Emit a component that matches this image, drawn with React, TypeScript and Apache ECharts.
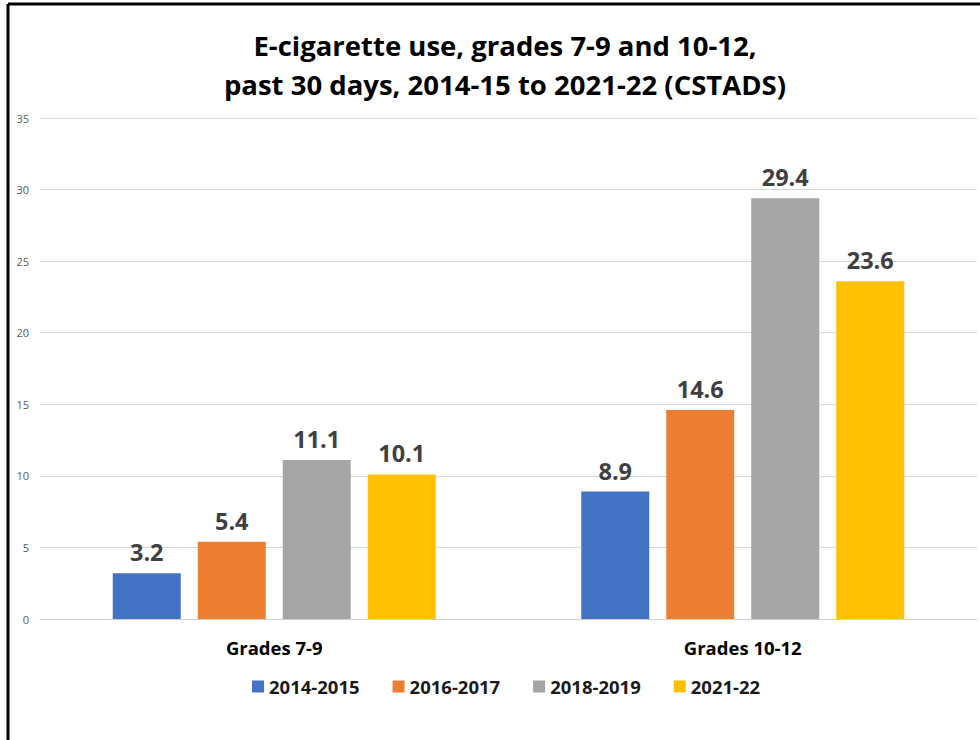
import React, { useEffect, useRef } from "react";
import * as echarts from "echarts";

const categories = ["Grades 7-9", "Grades 10-12"];
const seriesNames = ["2014-2015", "2016-2017", "2018-2019", "2021-22"];
const values2014 = [3.2, 8.9];
const values2016 = [5.4, 14.6];
const values2018 = [11.1, 29.4];
const values2021 = [10.1, 23.6];
const colors = ["#4472C4", "#ED7D31", "#A5A5A5", "#FFC000"];
const titleText = "E-cigarette use, grades 7-9 and 10-12,\npast 30 days, 2014-15 to 2021-22 (CSTADS)";

export default function App() {
  const ref = useRef<HTMLDivElement>(null);
  useEffect(() => {
    document.body.style.margin = "0";
    const chart = echarts.init(ref.current!, null, { renderer: "svg" });
    const allValues = [values2014, values2016, values2018, values2021];
    chart.setOption({
      animation: false,
      backgroundColor: "#ffffff",
      textStyle: { fontFamily: "Open Sans" },
      title: {
        text: titleText,
        left: 500,
        top: 21,
        textAlign: "center",
        textStyle: {
          fontFamily: "Open Sans",
          fontSize: 27.5,
          fontWeight: "bold",
          color: "#000000",
          lineHeight: 39,
        },
      },
      legend: {
        data: seriesNames,
        top: 672,
        left: 247,
        itemWidth: 12,
        itemHeight: 12,
        itemGap: 33,
        icon: "rect",
        textStyle: { fontFamily: "Open Sans", fontSize: 18.5, fontWeight: "bold", color: "#1a1a1a" },
      },
      grid: { left: 40, right: 3, top: 118, bottom: 121, containLabel: false },
      xAxis: {
        type: "category",
        data: categories,
        axisLine: { show: true, lineStyle: { color: "#d0d0d0", width: 1 } },
        axisTick: { show: false },
        axisLabel: {
          margin: 19,
          fontFamily: "Open Sans",
          fontSize: 18.5,
          fontWeight: "bold",
          color: "#000000",
        },
      },
      yAxis: {
        type: "value",
        min: 0,
        max: 35,
        interval: 5,
        axisLine: { show: false },
        axisTick: { show: false },
        splitLine: { lineStyle: { color: "#d9d9d9", width: 1 } },
        axisLabel: { fontSize: 11, color: "#595959", margin: 11, fontFamily: "Open Sans" },
      },
      series: seriesNames.map((name, i) => ({
        name,
        type: "bar",
        data: allValues[i],
        barWidth: 68,
        barGap: "25%",
        itemStyle: { color: colors[i] },
        label: {
          show: true,
          position: "top",
          distance: 9,
          fontFamily: "Open Sans",
          fontSize: 23.5,
          fontWeight: "bold",
          color: "#404040",
        },
      })),
      graphic: [
        { type: "line", shape: { x1: 8, y1: 4, x2: 980, y2: 4 }, style: { stroke: "#000", lineWidth: 3 } },
        { type: "line", shape: { x1: 8, y1: 4, x2: 8, y2: 740 }, style: { stroke: "#000", lineWidth: 3 } },
      ],
    });
    return () => chart.dispose();
  }, []);
  return <div ref={ref} style={{ width: 980, height: 740 }} />;
}
